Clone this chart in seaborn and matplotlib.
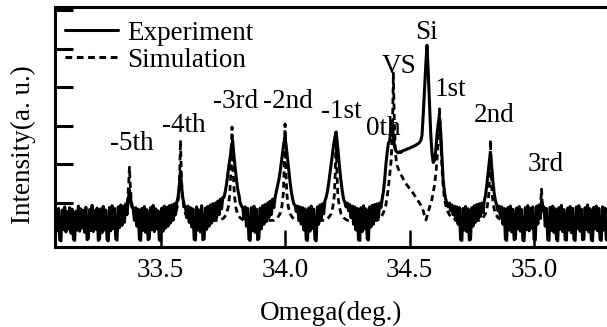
import numpy as np
import matplotlib
matplotlib.use("Agg")
import matplotlib.pyplot as plt
import seaborn as sns

# ---------------- data ----------------
exp_start = 33.08
exp_step = 0.005
exp_intensity = [
    0.80, 0.28, 0.86, 0.04, 0.02, 0.82, 0.31, 0.90, 0.25, 0.78,
    0.33, 0.88, 0.22, 0.84, 0.06, 0.03, 0.79, 0.30, 0.92, 0.27,
    0.85, 0.35, 0.81, 0.24, 0.89, 0.05, 0.08, 0.83, 0.29, 0.94,
    0.26, 0.80, 0.32, 0.87, 0.03, 0.06, 0.85, 0.23, 0.91, 0.30,
    0.82, 0.05, 0.02, 0.88, 0.28, 0.93, 0.34, 0.86, 0.07, 0.04,
    0.90, 0.36, 0.95, 0.42, 0.92, 0.50, 0.98, 0.70, 1.05, 1.35,
    1.10, 0.90, 0.85, 0.55, 0.88, 0.40, 0.84, 0.06, 0.03, 0.86,
    0.29, 0.91, 0.24, 0.83, 0.05, 0.08, 0.88, 0.31, 0.94, 0.26,
    0.85, 0.33, 0.80, 0.04, 0.02, 0.87, 0.27, 0.92, 0.35, 0.89,
    0.40, 0.93, 0.48, 0.95, 0.55, 0.98, 0.70, 1.02, 1.15, 1.40,
    1.82, 1.40, 1.10, 0.95, 0.90, 0.62, 0.92, 0.50, 0.88, 0.38,
    0.85, 0.06, 0.04, 0.90, 0.30, 0.82, 0.25, 0.93, 0.05, 0.07,
    0.87, 0.32, 0.91, 0.40, 0.95, 0.48, 0.98, 0.55, 1.00, 0.62,
    1.05, 0.70, 1.10, 0.85, 1.15, 1.15, 1.30, 1.50, 1.75, 2.00,
    2.20, 2.50, 2.60, 2.20, 1.90, 1.60, 1.35, 1.20, 1.00, 0.92,
    0.88, 0.60, 0.90, 0.40, 0.86, 0.06, 0.03, 0.88, 0.28, 0.92,
    0.24, 0.84, 0.05, 0.08, 0.87, 0.33, 0.93, 0.45, 0.96, 0.52,
    1.00, 0.62, 1.05, 0.70, 1.10, 0.88, 1.15, 1.30, 1.45, 1.60,
    1.80, 2.05, 2.30, 2.55, 2.71, 2.45, 2.15, 1.85, 1.55, 1.30,
    1.12, 0.98, 0.95, 0.78, 0.92, 0.60, 0.90, 0.45, 0.88, 0.30,
    0.85, 0.05, 0.03, 0.87, 0.27, 0.92, 0.34, 0.84, 0.06, 0.02,
    0.90, 0.45, 0.95, 0.55, 0.98, 0.72, 1.05, 1.15, 1.30, 1.50,
    1.75, 2.00, 2.25, 2.50, 2.70, 2.84, 2.55, 2.20, 1.85, 1.55,
    1.30, 1.10, 1.02, 0.90, 1.00, 0.80, 0.96, 0.62, 0.92, 0.45,
    0.90, 0.30, 0.86, 0.05, 0.03, 0.88, 0.26, 0.93, 0.33, 0.85,
    0.07, 0.04, 0.90, 0.38, 0.94, 0.45, 0.96, 0.55, 0.98, 0.62,
    1.00, 0.88, 1.10, 1.30, 1.60, 2.00, 2.30, 2.55, 2.60, 2.90,
    3.10, 2.75, 2.45, 2.35, 2.32, 2.30, 2.33, 2.31, 2.34, 2.36,
    2.37, 2.38, 2.40, 2.41, 2.42, 2.44, 2.45, 2.47, 2.48, 2.50,
    2.52, 2.54, 2.57, 2.62, 2.75, 3.30, 3.95, 4.55, 5.09, 4.40,
    3.60, 2.80, 2.30, 2.05, 2.10, 2.35, 2.75, 3.05, 3.23, 2.85,
    2.20, 1.60, 1.30, 1.10, 1.00, 0.90, 1.00, 0.80, 0.95, 0.70,
    0.92, 0.55, 0.90, 0.45, 0.88, 0.05, 0.03, 0.86, 0.30, 0.91,
    0.26, 0.85, 0.04, 0.06, 0.88, 0.40, 0.93, 0.50, 0.96, 0.58,
    0.98, 0.65, 1.00, 0.75, 1.05, 1.20, 1.45, 1.75, 2.05, 2.30,
    1.95, 1.55, 1.25, 1.05, 0.95, 0.80, 0.92, 0.62, 0.90, 0.45,
    0.86, 0.06, 0.03, 0.88, 0.30, 0.92, 0.25, 0.84, 0.05, 0.07,
    0.87, 0.33, 0.91, 0.27, 0.83, 0.04, 0.02, 0.88, 0.31, 0.93,
    0.28, 0.86, 0.35, 0.90, 0.06, 0.04, 0.92, 0.45, 0.95, 0.60,
    1.05, 0.80, 0.90, 0.40, 0.86, 0.05, 0.03, 0.89, 0.29, 0.92,
    0.24, 0.85, 0.06, 0.02, 0.88, 0.32, 0.94, 0.26, 0.83, 0.05,
    0.04, 0.87, 0.30, 0.91, 0.23, 0.86, 0.07, 0.03, 0.90, 0.34,
    0.93, 0.27, 0.84, 0.05, 0.06, 0.88, 0.31, 0.95, 0.25, 0.85,
    0.04, 0.02, 0.89, 0.33, 0.92, 0.28, 0.86, 0.06, 0.03, 0.90,
    0.30, 0.87, 0.05, 0.04,
]
exp_omega = exp_start + exp_step * np.arange(len(exp_intensity))

sim_omega = [
    33.08, 33.33, 33.345, 33.355, 33.362, 33.368, 33.372, 33.375, 33.378, 33.382,
    33.388, 33.395, 33.405, 33.42,
    33.535, 33.55, 33.56, 33.567, 33.573, 33.577, 33.58, 33.583, 33.587, 33.593,
    33.60, 33.61, 33.625,
    33.74, 33.755, 33.765, 33.772, 33.778, 33.783, 33.787, 33.791, 33.796, 33.802,
    33.809, 33.819, 33.834,
    33.955, 33.97, 33.98, 33.987, 33.993, 33.997, 34.00, 34.003, 34.007, 34.013,
    34.02, 34.03, 34.045,
    34.16, 34.175, 34.185, 34.192, 34.198, 34.202, 34.205, 34.208, 34.212, 34.218,
    34.225, 34.235, 34.25,
    34.37, 34.385, 34.395, 34.405, 34.413, 34.42, 34.426, 34.431, 34.435, 34.439,
    34.443, 34.448, 34.46, 34.475, 34.49, 34.505, 34.515, 34.53, 34.545, 34.555,
    34.561, 34.566, 34.572, 34.58, 34.59, 34.60, 34.607, 34.613, 34.617, 34.62,
    34.624, 34.628, 34.633, 34.64, 34.65, 34.665, 34.69,
    34.78, 34.795, 34.805, 34.812, 34.818, 34.822, 34.825, 34.828, 34.832, 34.838,
    34.845, 34.855, 34.87,
    34.99, 35.005, 35.015, 35.022, 35.027, 35.03, 35.033, 35.038, 35.045, 35.055,
    35.07, 35.30,
]
sim_intensity = [
    0.55, 0.55, 0.60, 0.70, 0.85, 1.10, 1.50, 1.93, 1.50, 1.10,
    0.85, 0.70, 0.60, 0.55,
    0.55, 0.62, 0.72, 0.90, 1.20, 1.80, 2.63, 1.80, 1.20, 0.90,
    0.72, 0.62, 0.55,
    0.55, 0.62, 0.72, 0.90, 1.25, 1.90, 2.97, 1.90, 1.25, 0.90,
    0.72, 0.62, 0.55,
    0.55, 0.62, 0.72, 0.90, 1.25, 1.95, 3.05, 1.95, 1.25, 0.90,
    0.72, 0.62, 0.55,
    0.55, 0.62, 0.72, 0.90, 1.20, 1.85, 2.84, 1.85, 1.20, 0.90,
    0.72, 0.62, 0.55,
    0.55, 0.62, 0.75, 0.95, 1.30, 1.70, 2.10, 2.80, 4.37, 3.10,
    2.35, 2.00, 1.80, 1.62, 1.46, 1.34, 1.25, 1.10, 0.95, 0.80,
    0.64, 0.56, 0.70, 0.88, 1.10, 1.45, 1.85, 2.35, 2.90, 3.44,
    2.90, 2.20, 1.60, 1.10, 0.82, 0.64, 0.55,
    0.55, 0.62, 0.72, 0.90, 1.20, 1.80, 2.63, 1.80, 1.20, 0.90,
    0.72, 0.62, 0.55,
    0.55, 0.60, 0.68, 0.80, 1.00, 1.36, 1.00, 0.80, 0.68, 0.60,
    0.55, 0.55,
]

x_ticks = [33.5, 34.0, 34.5, 35.0]
x_tick_labels = ["33.5", "34.0", "34.5", "35.0"]
y_ticks = [1, 2, 3, 4, 5, 6]

peak_labels = ["-5th", "-4th", "-3rd", "-2nd", "-1st", "0th", "VS", "Si", "1st", "2nd", "3rd"]
label_omega = [33.386, 33.594, 33.803, 34.012, 34.225, 34.394, 34.458, 34.566, 34.663, 34.839, 35.048]
label_height = [2.55, 3.02, 3.62, 3.62, 3.38, 2.92, 4.55, 5.43, 3.95, 3.28, 2.01]

# ---------------- style ----------------
sns.set_style("ticks")
plt.rcParams["font.family"] = ["Liberation Serif", "DejaVu Serif"]
for key in ["text.color", "axes.labelcolor", "xtick.color", "ytick.color", "axes.edgecolor"]:
    plt.rcParams[key] = "black"
FS = 19.5

fig = plt.figure(figsize=(6.07, 3.27), dpi=100)
ax = fig.add_axes([0.0906, 0.2446, 0.9094, 0.734])

sns.lineplot(x=exp_omega, y=exp_intensity, ax=ax, color="black", lw=2.2,
             estimator=None, sort=False, label="Experiment", zorder=3)
sns.lineplot(x=sim_omega, y=sim_intensity, ax=ax, color="black", lw=2.0,
             estimator=None, sort=False, label="Simulation", zorder=4,
             linestyle=(0, (2.2, 1.5)))

for t, xo, yo in zip(peak_labels, label_omega, label_height):
    ax.text(xo, yo, t, ha="center", va="center", fontsize=FS, zorder=2, color="black")

ax.set_xlim(33.076, 35.293)
ax.set_ylim(-0.14, 6.08)
ax.set_xticks(x_ticks)
ax.set_xticklabels(x_tick_labels, fontsize=FS)
ax.set_yticks(y_ticks)
ax.set_yticklabels([])
ax.tick_params(axis="x", direction="in", length=12, width=1.8, pad=8)
ax.tick_params(axis="y", direction="in", length=13, width=2.2)
ax.tick_params(top=False, right=False)
for s in ["left", "bottom", "top"]:
    ax.spines[s].set_linewidth(2.2)
    ax.spines[s].set_color("black")
ax.spines["right"].set_visible(False)

ax.set_xlabel("Omega(deg.)", fontsize=FS, labelpad=13)
ax.set_ylabel("Intensity(a. u.)", fontsize=FS)
ax.yaxis.set_label_coords(-0.035, 0.425)

leg = ax.legend(loc="upper left", bbox_to_anchor=(-0.006, 1.0), frameon=False, fontsize=FS,
                handlelength=1.95, handletextpad=0.35, labelspacing=0.08,
                borderaxespad=0.25, borderpad=0.25)
for h in leg.legend_handles:
    h.set_linewidth(2.2)

fig.savefig("out.png", dpi=100)
